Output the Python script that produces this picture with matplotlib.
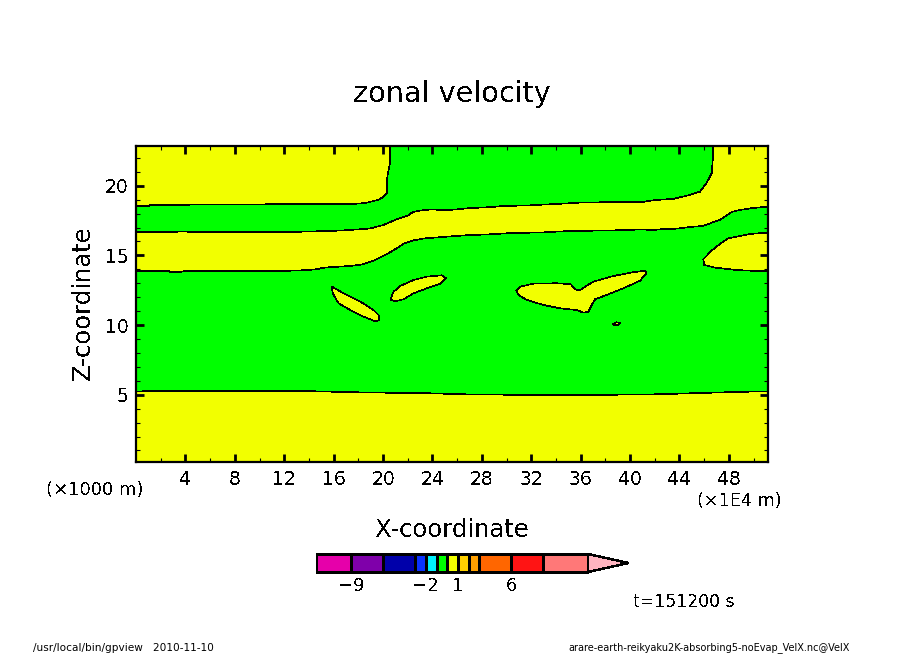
import matplotlib
matplotlib.use('Agg')
import matplotlib.pyplot as plt

# contour outlines of the zero level (km-ish axis units)
bottom_x = [0, 1.13, 13.3, 18.07, 23.82, 26.49, 34.34, 42.23, 44.85, 47.6, 50.2, 51.17]
bottom_y = [5.22, 5.27, 5.27, 5.17, 5.1, 5.03, 4.96, 5.03, 5.1, 5.17, 5.23, 5.23]

topleft_x = [0, 1.08, 1.17, 4.24, 4.4, 17.34, 18.56, 19.61, 20.02, 20.32, 20.32, 20.4, 20.58, 20.58]
topleft_y = [18.55, 18.55, 18.62, 18.62, 18.66, 18.67, 18.76, 18.98, 19.19, 19.48, 20.41, 20.91, 21.7, 22.85]

band_upper_x = [0, 2.78, 3.67, 5.2, 11.68, 15.57, 16.78, 17.91, 18.96, 20.02, 21.15, 21.96, 22.44, 23.0,
                23.82, 25.19, 25.84, 27.05, 28.27, 29.89, 31.67, 33.12, 34.66, 36.2, 40.97, 41.78, 42.67,
                43.48, 44.85, 45.66, 46.2, 46.61, 46.72, 46.72, 51.17]
band_upper_y = [16.66, 16.66, 16.72, 16.66, 16.66, 16.75, 16.79, 16.86, 16.93, 17.18, 17.61, 17.83, 18.12, 18.22,
                18.29, 18.26, 18.29, 18.4, 18.44, 18.55, 18.58, 18.65, 18.72, 18.8, 18.83, 18.94, 19.01,
                19.05, 19.34, 19.57, 20.2, 20.9, 22.08, 22.85, 22.85]
band_lower_x = [0, 2.62, 2.78, 3.59, 4.0, 11.68, 13.3, 14.51, 15.32, 17.34, 18.32, 19.37, 20.34, 21.15, 21.63,
                22.44, 23.25, 24.87, 25.84, 27.05, 28.43, 30.53, 32.72, 35.07, 38.55, 40.97, 41.86, 42.43,
                43.8, 44.85, 45.91, 46.63, 47.28, 48.25, 48.9, 49.95, 51.17]
band_lower_y = [13.88, 13.88, 13.81, 13.81, 13.88, 13.88, 13.92, 13.99, 14.13, 14.24, 14.35, 14.67, 15.1, 15.53, 15.82,
                16.07, 16.21, 16.32, 16.39, 16.46, 16.5, 16.61, 16.64, 16.75, 16.79, 16.86, 16.82, 16.87,
                16.92, 17.04, 17.11, 17.35, 17.54, 18.12, 18.26, 18.4, 18.5]

lobe_x = [51.17, 49.71, 48.65, 47.95, 47.28, 46.61, 45.93, 46.01, 46.88, 48.63, 50.25, 51.17]
lobe_y = [16.63, 16.54, 16.34, 16.23, 15.82, 15.34, 14.72, 14.31, 14.12, 13.95, 13.88, 13.88]

blob_a_x = [15.87, 16.81, 18.16, 19.23, 19.64, 19.72, 19.45, 18.42, 17.35, 16.4, 16.0, 15.87]
blob_a_y = [12.75, 12.28, 11.68, 11.08, 10.72, 10.41, 10.24, 10.6, 11.08, 11.56, 12.16, 12.52]
blob_b_x = [20.64, 20.85, 21.39, 22.47, 23.55, 24.77, 25.09, 24.63, 23.55, 22.47, 21.66, 20.99, 20.64]
blob_b_y = [11.92, 12.39, 12.8, 13.23, 13.47, 13.57, 13.36, 12.95, 12.64, 12.28, 11.85, 11.7, 11.8]
blob_c_x = [30.78, 31.1, 32.18, 34.07, 35.2, 35.55, 35.9, 36.36, 37.03, 38.65, 40.27, 41.21, 41.35, 40.81,
            39.46, 38.11, 37.17, 36.9, 36.63, 36.22, 35.68, 34.34, 32.99, 31.64, 30.96]
blob_c_y = [12.47, 12.75, 12.97, 13.0, 12.93, 12.57, 12.47, 12.75, 13.11, 13.52, 13.79, 13.9, 13.76, 13.18,
            12.64, 12.16, 11.85, 11.44, 10.96, 10.89, 11.08, 11.2, 11.44, 11.8, 12.16]
blob_d_x = [38.6, 38.92, 39.19, 39.05, 38.71]
blob_d_y = [10.08, 10.2, 10.13, 10.0, 9.98]

x_ticks = [4, 8, 12, 16, 20, 24, 28, 32, 36, 40, 44, 48]
x_minor = [2, 6, 10, 14, 18, 22, 26, 30, 34, 38, 42, 46, 50]
y_ticks = [5, 10, 15, 20]
y_minor = [1, 2, 3, 4, 6, 7, 8, 9, 11, 12, 13, 14, 16, 17, 18, 19, 21, 22]

# colour bar
levels = [-12.3, -9, -6, -3, -2, -1, 0, 1, 2, 3, 6, 9, 13.2]
bar_colors = ['#E600AA', '#7F00AA', '#0000AA', '#0A32FF', '#00F0FF', '#00FF00',
              '#F2FF00', '#FFD000', '#FFA000', '#FF6600', '#FF1414', '#FF7878']
over_color = '#FFB4C0'
over_tip = 17
bar_labels = [-9, -2, 1, 6]

GREEN = '#00FF00'
YELLOW = '#F2FF00'
W, H = 904, 654

plt.rcParams['font.family'] = 'DejaVu Sans'
plt.rcParams['text.antialiased'] = False
plt.rcParams['axes.unicode_minus'] = True


def axes_px(x0, y0, x1, y1):
    # pixel box, y counted from the top of the picture
    return [x0 / W, 1 - y1 / H, (x1 - x0) / W, (y1 - y0) / H]


def label(x, y, s, size, **kw):
    fig.text(x / W, 1 - y / H, s, fontsize=size, color='black', **kw)


fig = plt.figure(figsize=(W / 100, H / 100), dpi=100, facecolor='white')
ax = fig.add_axes(axes_px(136, 146, 768, 462))
ax.set_xlim(0, 51.17)
ax.set_ylim(0.17, 22.85)
ax.set_facecolor(GREEN)


def region(xs, ys):
    ax.fill(xs, ys, facecolor=YELLOW, edgecolor='black', linewidth=0.45, antialiased=False)


region(bottom_x + [51.17, 0], bottom_y + [0.17, 0.17])
region(topleft_x + [0], topleft_y + [22.85])
region(band_upper_x + band_lower_x[::-1], band_upper_y + band_lower_y[::-1])
region(lobe_x, lobe_y)
region(blob_a_x, blob_a_y)
region(blob_b_x, blob_b_y)
region(blob_c_x, blob_c_y)
region(blob_d_x, blob_d_y)

ax.set_xticks(x_ticks)
ax.set_xticks(x_minor, minor=True)
ax.set_yticks(y_ticks)
ax.set_yticks(y_minor, minor=True)
ax.tick_params(which='major', direction='in', length=6, width=2, top=True, right=True,
               labelsize=13.5)
ax.tick_params(axis='x', which='major', pad=6)
ax.tick_params(axis='y', which='major', pad=5.5)
ax.tick_params(which='minor', direction='in', length=3.2, width=0.8, top=True, right=True)
for s in ax.spines.values():
    s.set_linewidth(1.6)

label(452, 94, 'zonal velocity', 20.6, ha='center', va='center')
label(452, 530, 'X-coordinate', 17.5, ha='center', va='center')
label(83, 303, 'Z-coordinate', 17.5, ha='center', va='center', rotation=90)
label(95, 490, '(×1000 m)', 13, ha='center', va='center')
label(739, 501, '(×1E4 m)', 12.7, ha='center', va='center')
label(684, 602, 't=151200 s', 12.4, ha='center', va='center')
label(123, 648, '/usr/local/bin/gpview   2010-11-10', 7.6, ha='center', va='center', antialiased=True)
label(709, 648, 'arare-earth-reikyaku2K-absorbing5-noEvap_VelX.nc@VelX', 7.05, ha='center', va='center',
      antialiased=True)

# colour bar, 10.67 px per unit
cax = fig.add_axes(axes_px(316, 550, 629, 598))
cax.set_xlim(levels[0], levels[0] + 313 / 10.67)
cax.set_ylim(598, 550)
cax.axis('off')
for i, c in enumerate(bar_colors):
    cax.fill([levels[i], levels[i + 1], levels[i + 1], levels[i]], [554, 554, 572, 572],
             facecolor=c, edgecolor='black', linewidth=1.0, antialiased=False)
cax.fill([levels[-1], over_tip, levels[-1]], [554, 563, 572],
         facecolor=over_color, edgecolor='black', linewidth=1.0, antialiased=False)
for v in bar_labels:
    cax.text(v, 586, str(v).replace('-', '\u2212'), fontsize=13, ha='center', va='center')

fig.savefig('out.png', dpi=100)
